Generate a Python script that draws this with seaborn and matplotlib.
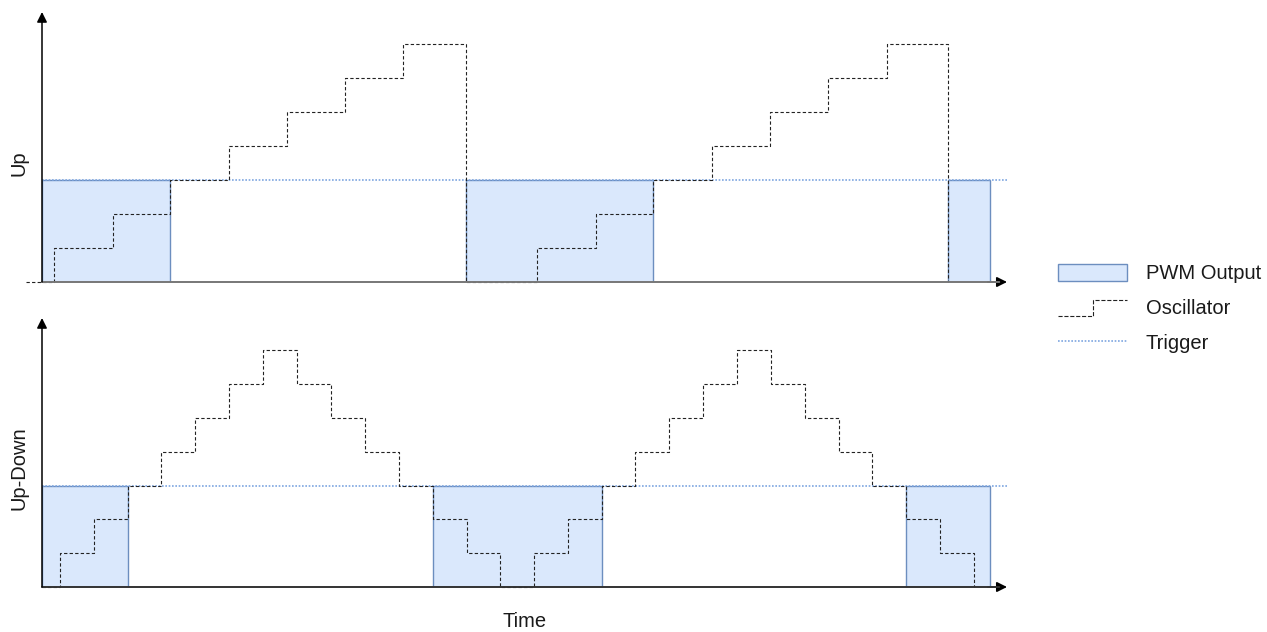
import numpy as np
import pandas as pd
import seaborn as sns
import matplotlib
import matplotlib.pyplot as plt
from matplotlib.lines import Line2D
from matplotlib.patches import Patch
from matplotlib.legend_handler import HandlerBase

matplotlib.use('Agg')

# time axis in units of one "Up" counter step
trigger_level = 3

# Up counter: breakpoints and counter level held from each breakpoint on
up_time = [-0.27, 0.20, 1.21, 2.18, 3.18, 4.17, 5.16, 6.14, 7.22,
           8.43, 9.43, 10.40, 11.40, 12.39, 13.38, 14.38, 15.42]
up_level = [0, 1, 2, 3, 4, 5, 6, 7, 0,
            1, 2, 3, 4, 5, 6, 7, 0]
up_pwm_start = [0.0, 7.22, 15.42]
up_pwm_end = [2.18, 10.40, 16.14]

# Up-Down counter
updown_time = [0.0, 0.31, 0.89, 1.46, 2.03, 2.60, 3.18, 3.76, 4.34, 4.92,
               5.50, 6.08, 6.66, 7.23, 7.80, 8.37, 8.95, 9.53, 10.09, 10.67,
               11.25, 11.83, 12.41, 12.99, 13.57, 14.14, 14.71, 15.29, 15.86]
updown_level = [0, 1, 2, 3, 4, 5, 6, 7, 6, 5,
                4, 3, 2, 1, 0, 1, 2, 3, 4, 5,
                6, 7, 6, 5, 4, 3, 2, 1, 0]
updown_pwm_start = [0.0, 6.66, 14.71]
updown_pwm_end = [1.46, 9.53, 16.14]

panel_names = ['Up', 'Up-Down']
legend_labels = ['PWM Output', 'Oscillator', 'Trigger']

fill_color = '#dae8fc'
edge_color = '#6c8ebf'
trigger_color = '#7ea6e0'
text_color = '#1a1a1a'
font_size = 14.5
osc_style = dict(color='#222222', lw=0.8, linestyle=(0, (3, 2)))


class StepHandler(HandlerBase):
    """Legend key drawn as a single step of the oscillator."""
    def create_artists(self, legend, orig_handle, xdescent, ydescent,
                       width, height, fontsize, trans):
        x0 = -xdescent
        y0 = -ydescent
        xs = [x0, x0 + width / 2, x0 + width / 2, x0 + width]
        ys = [y0 - 0.05 * height, y0 - 0.05 * height, y0 + 0.9 * height, y0 + 0.9 * height]
        line = Line2D(xs, ys, color=orig_handle.get_color(),
                      lw=orig_handle.get_linewidth(),
                      linestyle=orig_handle.get_linestyle(), transform=trans)
        return [line]


def draw_panel(ax, times, levels, pwm_start, pwm_end, name, ytop, x_axis_color):
    osc = pd.DataFrame({'time': times, 'level': levels})
    widths = np.array(pwm_end) - np.array(pwm_start)
    ax.bar(pwm_start, [trigger_level] * len(pwm_start), width=widths, align='edge',
           color=fill_color, edgecolor=edge_color, linewidth=1, zorder=1)
    ax.axhline(trigger_level, color=trigger_color, lw=1.2, linestyle=(0, (1, 1)), zorder=2)
    sns.lineplot(data=osc, x='time', y='level', ax=ax, drawstyle='steps-post',
                 estimator=None, sort=False, clip_on=False, zorder=3, **osc_style)

    ax.set_xlim(0, 16.43)
    ax.set_ylim(0, ytop)
    sns.despine(ax=ax, left=True, bottom=True)
    ax.set_xticks([])
    ax.set_yticks([])
    ax.set_xlabel('')
    ax.set_ylabel(name, fontsize=font_size, va='center', color=text_color)
    ax.yaxis.set_label_coords(-0.024, 0.44)

    head = dict(mutation_scale=12, shrinkA=0, shrinkB=0)
    arrow = '-|>,head_length=0.5,head_width=0.25'
    ax.annotate('', xy=(1, 0), xytext=(0.98, 0), xycoords='axes fraction',
                arrowprops=dict(arrowstyle=arrow, color='black', lw=1.2, **head), zorder=4)
    ax.annotate('', xy=(0.992, 0), xytext=(0, 0), xycoords='axes fraction',
                arrowprops=dict(arrowstyle='-', color=x_axis_color, lw=1.4, **head), zorder=4)
    ax.annotate('', xy=(0, 1), xytext=(0, 0), xycoords='axes fraction',
                arrowprops=dict(arrowstyle=arrow, color='black', lw=1.1, **head), zorder=4)


sns.set_theme(style='white')
plt.rcParams['font.family'] = ['Liberation Sans', 'DejaVu Sans']

fig = plt.figure(figsize=(12.67, 6.32), dpi=100)
ax_up = fig.add_axes([42 / 1267, 1 - 282 / 632, 965 / 1267, 270 / 632])
ax_ud = fig.add_axes([42 / 1267, 1 - 587 / 632, 965 / 1267, 269 / 632])

draw_panel(ax_up, up_time, up_level, up_pwm_start, up_pwm_end, panel_names[0], 7.94, '#777777')
draw_panel(ax_ud, updown_time, updown_level, updown_pwm_start, updown_pwm_end, panel_names[1], 7.96, '#333333')

ax_ud.set_xlabel('Time', fontsize=font_size, va='center', color=text_color)
ax_ud.xaxis.set_label_coords(0.5, -0.128)

handles = [
    Patch(facecolor=fill_color, edgecolor=edge_color, linewidth=1),
    Line2D([], [], **osc_style),
    Line2D([], [], color=trigger_color, lw=1.2, linestyle=(0, (1, 1))),
]
leg = fig.legend(handles, legend_labels, loc='upper left',
                 bbox_to_anchor=(1058 / 1267, 1 - 264 / 632), frameon=False,
                 fontsize=font_size, handlelength=3.45, handleheight=0.9, handletextpad=0.9,
                 labelspacing=0.76, borderpad=0, borderaxespad=0,
                 handler_map={handles[1]: StepHandler()})
for t in leg.get_texts():
    t.set_color(text_color)

fig.savefig('out.png', dpi=100)
